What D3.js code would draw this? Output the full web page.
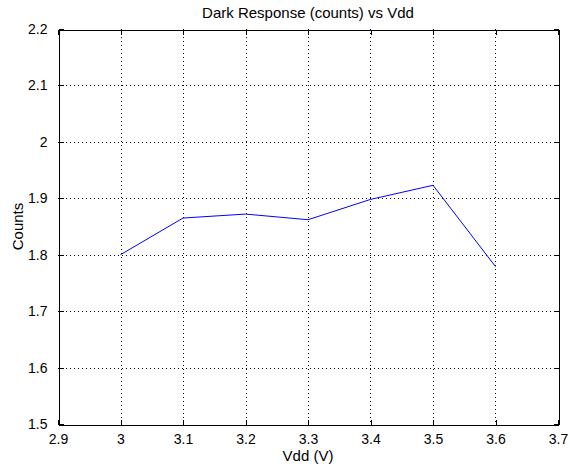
<!DOCTYPE html>
<html>
<head>
<meta charset="utf-8">
<script src="https://cdn.jsdelivr.net/npm/d3@7"></script>
<style>
  html, body { margin: 0; padding: 0; background: #fff; }
  svg { display: block; }
  text { font-family: Arial, "Liberation Sans", Helvetica, sans-serif; fill: #000; }
</style>
</head>
<body>
<svg id="chart" width="570" height="471"></svg>
<script>
// Data
const vdd = [3.0, 3.1, 3.2, 3.3, 3.4, 3.5, 3.6];
const counts = [1.800, 1.865, 1.872, 1.862, 1.898, 1.923, 1.779];
const xTicks = [2.9, 3.0, 3.1, 3.2, 3.3, 3.4, 3.5, 3.6, 3.7];
const yTicks = [1.5, 1.6, 1.7, 1.8, 1.9, 2.0, 2.1, 2.2];
const xTickLabels = ["2.9", "3", "3.1", "3.2", "3.3", "3.4", "3.5", "3.6", "3.7"];
const yTickLabels = ["1.5", "1.6", "1.7", "1.8", "1.9", "2", "2.1", "2.2"];
const titleText = "Dark Response (counts) vs Vdd";
const xLabelText = "Vdd (V)";
const yLabelText = "Counts";

const svg = d3.select("#chart");
const L = 58, R = 558, T = 29, B = 424;

const x = d3.scaleLinear().domain([2.9, 3.7]).range([L, R]);
const y = d3.scaleLinear().domain([1.5, 2.2]).range([B, T]);

svg.append("rect").attr("width", 570).attr("height", 471).attr("fill", "#fff");

// Grid
const grid = svg.append("g").attr("stroke", "#000").attr("stroke-width", 1)
  .attr("stroke-dasharray", "1,3").attr("shape-rendering", "crispEdges");
xTicks.slice(1, -1).forEach(t => {
  const px = Math.round(x(t)) + 0.5;
  grid.append("line").attr("x1", px).attr("x2", px).attr("y1", T).attr("y2", B);
});
yTicks.slice(1, -1).forEach(t => {
  const py = Math.round(y(t)) + 0.5;
  grid.append("line").attr("x1", L).attr("x2", R).attr("y1", py).attr("y2", py);
});

// Data line
const line = d3.line().x((d, i) => x(vdd[i])).y(d => y(d));
svg.append("path").datum(counts)
  .attr("d", line)
  .attr("fill", "none")
  .attr("stroke", "#0000ff")
  .attr("stroke-width", 1);

// Axes box and inward ticks on all four sides
const tickLen = 5;
const axG = svg.append("g").attr("shape-rendering", "crispEdges");
const bottomAxis = d3.axisBottom(x).tickValues(xTicks).tickSizeInner(-tickLen).tickSizeOuter(0)
  .tickFormat((d, i) => xTickLabels[i]).tickPadding(10);
const topAxis = d3.axisTop(x).tickValues(xTicks).tickSizeInner(-tickLen).tickSizeOuter(0).tickFormat("");
const leftAxis = d3.axisLeft(y).tickValues(yTicks).tickSizeInner(-tickLen).tickSizeOuter(0)
  .tickFormat((d, i) => yTickLabels[i]).tickPadding(11);
const rightAxis = d3.axisRight(y).tickValues(yTicks).tickSizeInner(-tickLen).tickSizeOuter(0).tickFormat("");

function styleAxis(g) {
  g.selectAll("path").attr("stroke", "#000");
  g.selectAll("line").attr("stroke", "#000");
  g.selectAll("text").attr("font-size", "14px").attr("fill", "#000")
    .attr("font-family", "Arial, 'Liberation Sans', sans-serif");
}
axG.append("g").attr("transform", `translate(0,${B + 0.5})`).call(bottomAxis).call(styleAxis);
axG.append("g").attr("transform", `translate(0,${T + 0.5})`).call(topAxis).call(styleAxis);
axG.append("g").attr("transform", `translate(${L + 0.5},0)`).call(leftAxis).call(styleAxis);
axG.append("g").attr("transform", `translate(${R + 0.5},0)`).call(rightAxis).call(styleAxis);

// Title and labels
svg.append("text").attr("x", (L + R) / 2).attr("y", 18)
  .attr("text-anchor", "middle").attr("font-size", "15px").text(titleText);
svg.append("text").attr("x", (L + R) / 2).attr("y", 461)
  .attr("text-anchor", "middle").attr("font-size", "15px").text(xLabelText);
svg.append("text").attr("transform", `translate(23,${(T + B) / 2}) rotate(-90)`)
  .attr("text-anchor", "middle").attr("font-size", "15px").text(yLabelText);
</script>
</body>
</html>
